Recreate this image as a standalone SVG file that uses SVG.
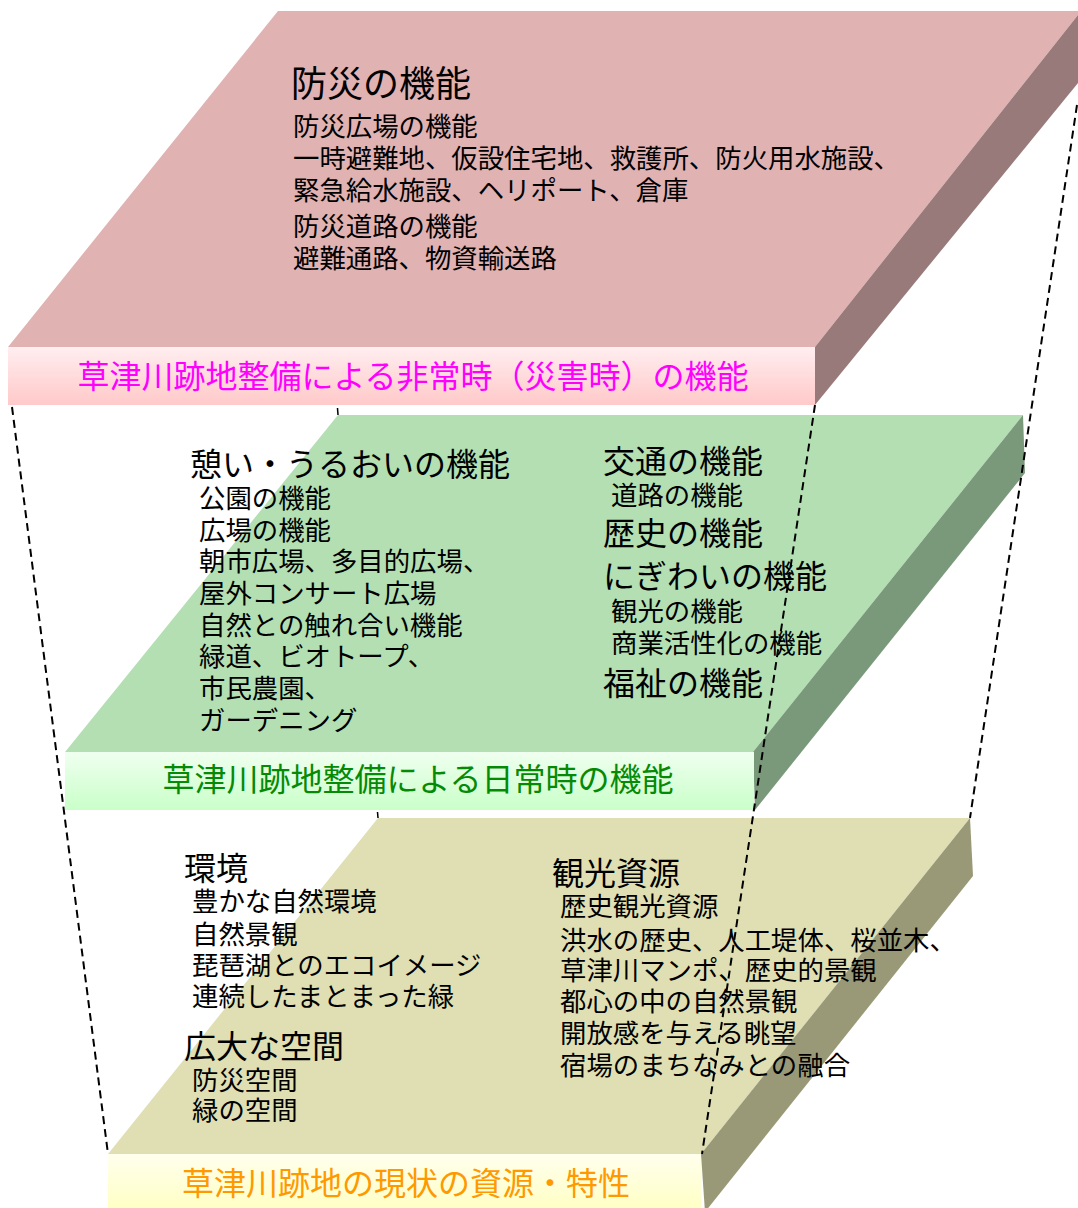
<svg xmlns="http://www.w3.org/2000/svg" width="1078" height="1208" viewBox="0 0 1078 1208">
<defs>
<linearGradient id="gPink" x1="0" y1="0" x2="0" y2="1"><stop offset="0" stop-color="#ffeef0"/><stop offset="1" stop-color="#ffc9c9"/></linearGradient>
<linearGradient id="gGreen" x1="0" y1="0" x2="0" y2="1"><stop offset="0" stop-color="#f0fff0"/><stop offset="1" stop-color="#c9ffc9"/></linearGradient>
<linearGradient id="gTan" x1="0" y1="0" x2="0" y2="1"><stop offset="0" stop-color="#ffffee"/><stop offset="1" stop-color="#ffffc6"/></linearGradient>
</defs>
<style>
text{font-family:"Noto Sans CJK JP","Noto Sans",sans-serif;fill:#000}
.h{font-size:32px}
.t{font-size:36px}
.s{font-size:26.4px}
.lab{font-size:32px;text-anchor:middle}
.dash{fill:none;stroke:#000;stroke-width:2;stroke-dasharray:8 5}
.tick{fill:none;stroke:#000;stroke-width:1.5}
</style>
<rect width="1078" height="1208" fill="#fff"/>

<g id="layer-disaster">
<polygon points="8,347 278,11 1078,11 1078,15 815,347" fill="#e0b2b2"/>
<polygon points="815,347 1078,15 1078,83 815,405" fill="#997a7a"/>
<rect x="8" y="347" width="807" height="58" fill="url(#gPink)"/>
<text class="t" x="291" y="97">防災の機能</text>
<text class="s" x="293" y="136">防災広場の機能</text>
<text class="s" x="293" y="168">一時避難地、仮設住宅地、救護所、防火用水施設、</text>
<text class="s" x="293" y="200">緊急給水施設、ヘリポート、倉庫</text>
<text class="s" x="293" y="236">防災道路の機能</text>
<text class="s" x="293" y="268">避難通路、物資輸送路</text>
<text class="lab" x="413" y="388" style="fill:#ff00ff">草津川跡地整備による非常時（災害時）の機能</text>
</g>

<g id="layer-daily">
<polygon points="65,752 338,415 1023,415 753,752" fill="#b3dfb3"/>
<polygon points="753,752 1023,415 1025,473 755,810" fill="#7a997a"/>
<rect x="65" y="752" width="689" height="58" fill="url(#gGreen)"/>
<text class="h" x="190" y="476">憩い・うるおいの機能</text>
<text class="s" x="199" y="508">公園の機能</text>
<text class="s" x="199" y="540">広場の機能</text>
<text class="s" x="199" y="571">朝市広場、多目的広場、</text>
<text class="s" x="199" y="603">屋外コンサート広場</text>
<text class="s" x="199" y="635">自然との触れ合い機能</text>
<text class="s" x="199" y="666">緑道、ビオトープ、</text>
<text class="s" x="199" y="698">市民農園、</text>
<text class="s" x="199" y="730">ガーデニング</text>
<text class="h" x="603" y="473">交通の機能</text>
<text class="s" x="611" y="505">道路の機能</text>
<text class="h" x="603" y="545">歴史の機能</text>
<text class="h" x="603" y="588">にぎわいの機能</text>
<text class="s" x="611" y="621">観光の機能</text>
<text class="s" x="611" y="653">商業活性化の機能</text>
<text class="h" x="603" y="695">福祉の機能</text>
<text class="lab" x="418" y="791" style="fill:#058a05">草津川跡地整備による日常時の機能</text>
</g>

<g id="layer-resources">
<polygon points="108,1154 378,818 970,818 701,1154" fill="#dfdfb3"/>
<polygon points="701,1154 970,818 973,876 705,1212" fill="#999977"/>
<rect x="108" y="1154" width="593" height="54" fill="url(#gTan)"/>
<text class="h" x="184" y="880">環境</text>
<text class="s" x="192" y="911">豊かな自然環境</text>
<text class="s" x="192" y="944">自然景観</text>
<text class="s" x="192" y="975">琵琶湖とのエコイメージ</text>
<text class="s" x="192" y="1006">連続したまとまった緑</text>
<text class="h" x="184" y="1058">広大な空間</text>
<text class="s" x="192" y="1090">防災空間</text>
<text class="s" x="192" y="1120">緑の空間</text>
<text class="h" x="552" y="885">観光資源</text>
<text class="s" x="560" y="916">歴史観光資源</text>
<text class="s" x="560" y="950">洪水の歴史、人工堤体、桜並木、</text>
<text class="s" x="560" y="980">草津川マンポ、歴史的景観</text>
<text class="s" x="560" y="1011">都心の中の自然景観</text>
<text class="s" x="560" y="1043">開放感を与える眺望</text>
<text class="s" x="560" y="1075">宿場のまちなみとの融合</text>
<text class="lab" x="406" y="1195" style="fill:#ff9900">草津川跡地の現状の資源・特性</text>
</g>

<g id="connectors">
<line class="dash" x1="12" y1="407" x2="108" y2="1154"/>
<line class="dash" x1="815" y1="405" x2="702" y2="1154"/>
<line class="dash" x1="1077" y1="105" x2="970" y2="818"/>
<line class="tick" x1="337.5" y1="408" x2="338" y2="415"/>
<line class="tick" x1="377.5" y1="812" x2="378" y2="818"/>
</g>
</svg>
